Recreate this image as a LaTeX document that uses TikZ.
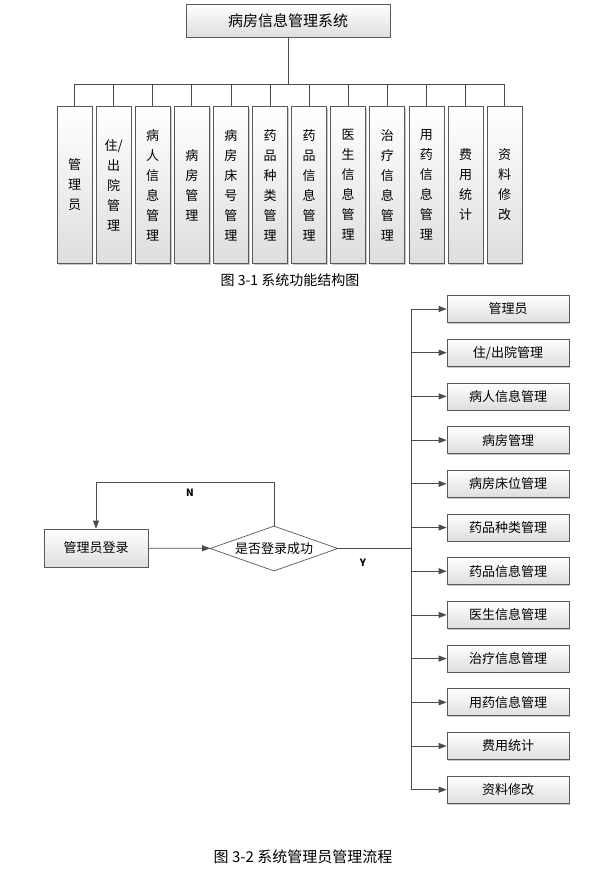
\documentclass[tikz,border=0pt]{standalone}
\usepackage{fontspec}
\setmainfont{Noto Sans CJK SC}
\usetikzlibrary{arrows.meta,shapes.geometric,shadows,positioning}

\begin{document}
\begin{tikzpicture}[x=1pt,y=-1pt,line width=0.7pt,
  box/.style={rectangle,draw=black!65,top color=white,bottom color=black!13,
    drop shadow={shadow xshift=1.3pt,shadow yshift=-1.3pt,opacity=0.35,fill=black!60}},
  col node/.style={box,minimum width=35pt,minimum height=157pt,inner sep=0pt,
    text width=35pt,align=center,font=\fontsize{13}{20}\selectfont},
  item node/.style={box,minimum width=122pt,minimum height=27pt,inner sep=0pt,
    font=\fontsize{13}{15}\selectfont},
  link/.style={draw=black!70},
  arr/.style={link,-{Triangle[length=8pt,width=6pt]}},
  lab/.style={font=\fontsize{10}{12}\selectfont\bfseries}]
  \useasboundingbox (0,0) rectangle (599,878);

  % function structure
  \node[box,minimum width=204pt,minimum height=33pt,font=\fontsize{15}{17}\selectfont] (sys) at (288,20.5) {病房信息管理系统};
  \node[col node] (f1) at (74.5,185) {管\\理\\员};
  \node[col node] (f2) [right of=f1,node distance=39.1pt] {住/\\出\\院\\管\\理};
  \node[col node] (f3) [right of=f2,node distance=39.1pt] {病\\人\\信\\息\\管\\理};
  \node[col node] (f4) [right of=f3,node distance=39.1pt] {病\\房\\管\\理};
  \node[col node] (f5) [right of=f4,node distance=39.1pt] {病\\房\\床\\号\\管\\理};
  \node[col node] (f6) [right of=f5,node distance=39.1pt] {药\\品\\种\\类\\管\\理};
  \node[col node] (f7) [right of=f6,node distance=39.1pt] {药\\品\\信\\息\\管\\理};
  \node[col node] (f8) [right of=f7,node distance=39.1pt] {医\\生\\信\\息\\管\\理};
  \node[col node] (f9) [right of=f8,node distance=39.1pt] {治\\疗\\信\\息\\管\\理};
  \node[col node] (f10) [right of=f9,node distance=39.1pt] {用\\药\\信\\息\\管\\理};
  \node[col node] (f11) [right of=f10,node distance=39.1pt] {费\\用\\统\\计};
  \node[col node] (f12) [right of=f11,node distance=39.1pt] {资\\料\\修\\改};
  \node[font=\fontsize{14}{16}\selectfont] (cap1) at (290,280) {图~3-1~系统功能结构图};

  \coordinate (bus) at (288,84);
  \draw[link] (sys) -- (bus);
  \draw[link] (bus -| f1) -- (bus -| f12);
  \path[every edge/.style={link}]
    (bus -| f1) edge (f1)
    (bus -| f2) edge (f2)
    (bus -| f3) edge (f3)
    (bus -| f4) edge (f4)
    (bus -| f5) edge (f5)
    (bus -| f6) edge (f6)
    (bus -| f7) edge (f7)
    (bus -| f8) edge (f8)
    (bus -| f9) edge (f9)
    (bus -| f10) edge (f10)
    (bus -| f11) edge (f11)
    (bus -| f12) edge (f12);

  % admin flow
  \node[box,minimum width=104pt,minimum height=38pt,font=\fontsize{13}{15}\selectfont] (login) at (96,548) {管理员登录};
  \node[diamond,draw=black!65,fill=white,aspect=2.8,minimum width=128pt,minimum height=45pt,inner sep=0pt,font=\fontsize{13}{15}\selectfont] (check) at (274,548.5) {是否登录成功};
  \node[item node] (g1) at (508,309) {管理员};
  \node[item node] (g2) [below of=g1,node distance=43.7pt] {住/出院管理};
  \node[item node] (g3) [below of=g2,node distance=43.7pt] {病人信息管理};
  \node[item node] (g4) [below of=g3,node distance=43.7pt] {病房管理};
  \node[item node] (g5) [below of=g4,node distance=43.7pt] {病房床位管理};
  \node[item node] (g6) [below of=g5,node distance=43.7pt] {药品种类管理};
  \node[item node] (g7) [below of=g6,node distance=43.7pt] {药品信息管理};
  \node[item node] (g8) [below of=g7,node distance=43.7pt] {医生信息管理};
  \node[item node] (g9) [below of=g8,node distance=43.7pt] {治疗信息管理};
  \node[item node] (g10) [below of=g9,node distance=43.7pt] {用药信息管理};
  \node[item node] (g11) [below of=g10,node distance=43.7pt] {费用统计};
  \node[item node] (g12) [below of=g11,node distance=43.7pt] {资料修改};
  \node[lab] (no) at (190,493) {N};
  \node[lab] (yes) at (363,563) {Y};
  \node[font=\fontsize{15}{17}\selectfont] (cap2) at (303,857) {图~3-2~系统管理员管理流程};

  \coordinate (back) at (0,482);
  \coordinate (split) at (411,548.5);
  \draw[arr] (login) -- (check);
  \draw[arr] (check.north) -- (check.north |- back) -| (login.north);
  \draw[link] (check) -- (split);
  \draw[link] (split |- g1) -- (split |- g12);
  \path[every edge/.style={arr}]
    (split |- g1) edge (g1)
    (split |- g2) edge (g2)
    (split |- g3) edge (g3)
    (split |- g4) edge (g4)
    (split |- g5) edge (g5)
    (split |- g6) edge (g6)
    (split |- g7) edge (g7)
    (split |- g8) edge (g8)
    (split |- g9) edge (g9)
    (split |- g10) edge (g10)
    (split |- g11) edge (g11)
    (split |- g12) edge (g12);
\end{tikzpicture}
\end{document}
